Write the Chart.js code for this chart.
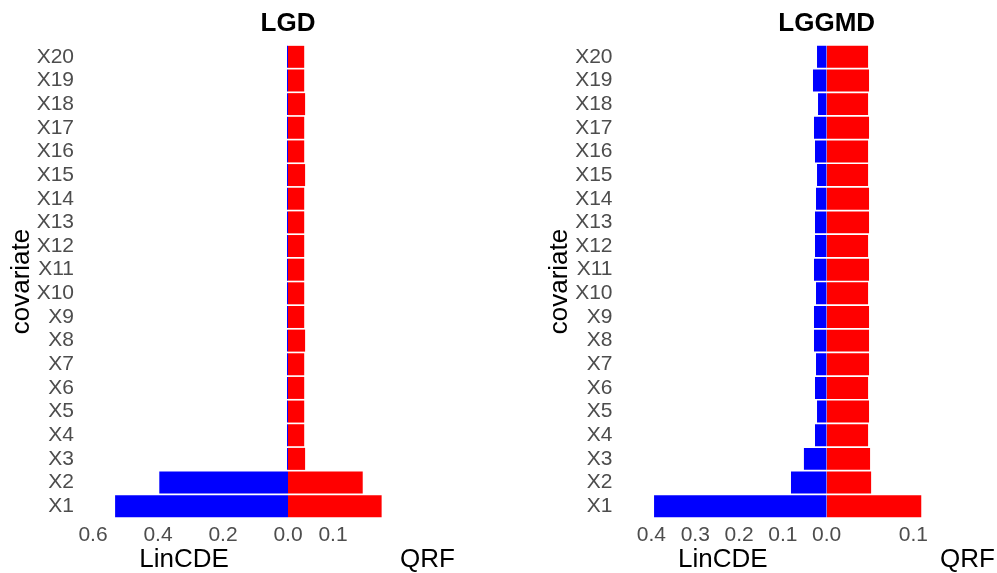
<!DOCTYPE html>
<html>
<head>
<meta charset="utf-8">
<script src="https://cdn.jsdelivr.net/npm/chart.js@4.4.1/dist/chart.umd.min.js"></script>
<style>
  html, body { margin: 0; padding: 0; background: #ffffff; overflow: hidden; }
  #wrap { position: relative; width: 997px; height: 573px; }
  #c1 { position: absolute; left: 0; top: 0; }
  #c2 { position: absolute; left: 538px; top: 0; }
</style>
</head>
<body>
<div id="wrap">
  <canvas id="c1" width="460" height="573"></canvas>
  <canvas id="c2" width="459" height="573"></canvas>
</div>
<script>
// ---- data ----
const categories = ['X1','X2','X3','X4','X5','X6','X7','X8','X9','X10',
                    'X11','X12','X13','X14','X15','X16','X17','X18','X19','X20'];

const lgdLinCDE = [0.532, 0.396, 0.003, 0.003, 0.003, 0.003, 0.003, 0.003, 0.003, 0.003,
                   0.003, 0.003, 0.003, 0.003, 0.003, 0.003, 0.003, 0.003, 0.003, 0.003];
const lgdQRF    = [0.208, 0.166, 0.038, 0.036, 0.036, 0.036, 0.036, 0.038, 0.036, 0.036,
                   0.036, 0.036, 0.036, 0.036, 0.038, 0.036, 0.036, 0.038, 0.036, 0.036];

const lggmdLinCDE = [0.394, 0.0815, 0.052, 0.0267, 0.0221, 0.0267, 0.0244, 0.029, 0.029, 0.0244,
                     0.029, 0.0267, 0.0267, 0.0244, 0.0221, 0.0267, 0.029, 0.0198, 0.0313, 0.0221];
const lggmdQRF    = [0.109, 0.0512, 0.050, 0.0477, 0.0488, 0.0477, 0.0488, 0.0488, 0.0488, 0.0477,
                     0.0488, 0.0477, 0.0488, 0.0488, 0.0477, 0.0477, 0.0488, 0.0477, 0.0488, 0.0477];

const lgdLinTicks   = [0, 0.2, 0.4, 0.6];
const lgdQrfTicks   = [0.1];
const lggmdLinTicks = [0, 0.1, 0.2, 0.3, 0.4];
const lggmdQrfTicks = [0.1];

const panelTitles = ['LGD', 'LGGMD'];
const seriesNames = ['LinCDE', 'QRF'];
const yTitle = 'covariate';

// ---- styling ----
Chart.defaults.font.family = '"Liberation Sans", Arial, Helvetica, sans-serif';
const TICK_COLOR = '#4D4D4D';

const panelTitlePlugin = {
  id: 'panelTitle',
  afterDraw(chart, args, opts) {
    const ctx = chart.ctx;
    const x = chart.scales.xL.getPixelForValue(0);
    ctx.save();
    ctx.font = 'bold 26px "Liberation Sans", Arial, sans-serif';
    ctx.fillStyle = '#000000';
    ctx.textAlign = 'center';
    ctx.textBaseline = 'alphabetic';
    ctx.fillText(opts.text, x, 31);
    ctx.restore();
  }
};

function makePanel(canvasId, title, lin, qrf, linTicks, qrfTicks, cfg) {
  const setTicks = (arr) => (scale) => { scale.ticks = arr.map(v => ({ value: v })); };
  const xCommon = {
    type: 'linear',
    position: 'bottom',
    stack: 'x',
    grid: { display: false, drawTicks: false },
    border: { display: false },
    afterFit: (s) => { s.height = 55; }
  };
  const xTicks = (arr) => ({
    autoSkip: false, maxRotation: 0, minRotation: 0,
    color: TICK_COLOR, font: { size: 21 }, padding: 5,
    callback: (v) => Number(v).toFixed(1)
  });
  return new Chart(document.getElementById(canvasId), {
    type: 'bar',
    data: {
      labels: categories,
      datasets: [
        { label: seriesNames[0], data: lin, xAxisID: 'xL', backgroundColor: '#0000FF', borderWidth: 0 },
        { label: seriesNames[1], data: qrf, xAxisID: 'xR', backgroundColor: '#FF0000', borderWidth: 0 }
      ]
    },
    options: {
      indexAxis: 'y',
      responsive: false,
      animation: false,
      devicePixelRatio: 1,
      layout: { padding: { top: 45, bottom: 0, left: 0, right: cfg.padRight } },
      datasets: { bar: { grouped: false, categoryPercentage: 1.0, barPercentage: 0.93 } },
      plugins: {
        legend: { display: false },
        tooltip: { enabled: false },
        title: { display: false },
        panelTitle: { text: title }
      },
      scales: {
        y: {
          type: 'category',
          reverse: true,
          offset: true,
          grid: { display: false, drawTicks: false },
          border: { display: false },
          ticks: { color: TICK_COLOR, font: { size: 21 }, padding: cfg.yPad, autoSkip: false },
          title: { display: true, text: yTitle, color: '#000000', font: { size: 26, lineHeight: 1.2 }, padding: { top: 6, bottom: 0 } },
          afterFit: (s) => { s.width = cfg.yWidth; }
        },
        xL: Object.assign({}, xCommon, {
          reverse: true,
          min: 0, max: cfg.linMax,
          stackWeight: cfg.linWeight,
          ticks: xTicks(linTicks),
          afterBuildTicks: setTicks(linTicks),
          title: { display: true, text: seriesNames[0], align: 'center', color: '#000000', font: { size: 26, lineHeight: 1.0 }, padding: { top: 0, bottom: 0 } }
        }),
        xR: Object.assign({}, xCommon, {
          min: 0, max: cfg.qrfMax,
          stackWeight: cfg.qrfWeight,
          ticks: xTicks(qrfTicks),
          afterBuildTicks: setTicks(qrfTicks),
          title: { display: true, text: seriesNames[1], align: 'end', color: '#000000', font: { size: 26, lineHeight: 1.0 }, padding: { top: 0, bottom: 0 } }
        })
      }
    },
    plugins: [panelTitlePlugin]
  });
}

makePanel('c1', panelTitles[0], lgdLinCDE, lgdQRF, lgdLinTicks, lgdQrfTicks, {
  padRight: 5, yWidth: 80, yPad: 6,
  linWeight: 208, qrfWeight: 167,
  linMax: 0.640, qrfMax: 0.371
});
makePanel('c2', panelTitles[1], lggmdLinCDE, lggmdQRF, lggmdLinTicks, lggmdQrfTicks, {
  padRight: 2, yWidth: 81, yPad: 6.5,
  linWeight: 207.7, qrfWeight: 168.3,
  linMax: 0.474, qrfMax: 0.194
});
</script>
</body>
</html>
